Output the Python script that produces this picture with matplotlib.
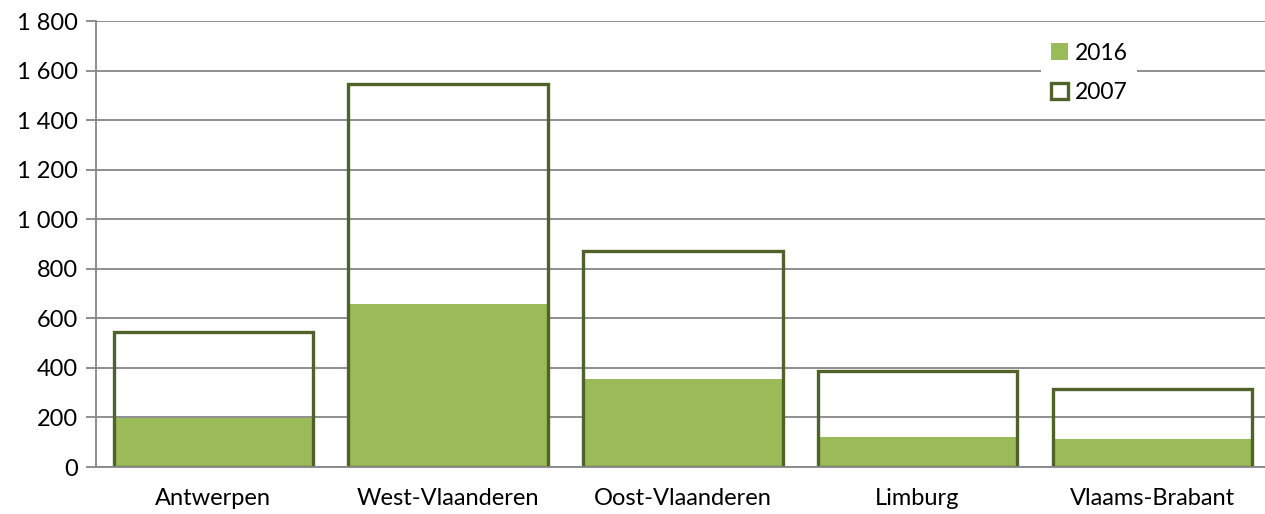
import matplotlib
matplotlib.use("Agg")
import matplotlib.pyplot as plt
from matplotlib.patches import Patch
from matplotlib.ticker import FuncFormatter

categories = ["Antwerpen", "West-Vlaanderen", "Oost-Vlaanderen", "Limburg", "Vlaams-Brabant"]
values_2016 = [198, 658, 355, 122, 113]
values_2007 = [545, 1546, 872, 389, 315]
yticks = [0, 200, 400, 600, 800, 1000, 1200, 1400, 1600, 1800]

plt.rcParams['font.family'] = ['Lato', 'DejaVu Sans']

fill_col = "#9BBB59"
edge_col = "#4F6228"
grid_col = "#868686"

fig = plt.figure(figsize=(12.65, 5.14), dpi=100)
ax = fig.add_axes([96 / 1265, 47 / 514, 1 - 96 / 1265, (467 - 21) / 514])

x = list(range(len(categories)))
w = 0.85
ax.bar(x, values_2016, width=w, color=fill_col, edgecolor="none", zorder=2)
ax.bar(x, values_2007, width=w, facecolor="none", edgecolor=edge_col, linewidth=2.4, zorder=3)

ax.set_ylim(0, 1800)
ax.set_xlim(-0.5, 4.48)
ax.set_yticks(yticks)
ax.yaxis.set_major_formatter(FuncFormatter(lambda v, p: f"{int(v):,}".replace(",", " ")))
ax.set_xticks(x)
ax.set_xticklabels(categories)

ax.yaxis.grid(True, color=grid_col, linewidth=1.3, zorder=0)
ax.set_axisbelow(True)
for s in ["top", "right"]:
    ax.spines[s].set_visible(False)
ax.spines["left"].set_color(grid_col)
ax.spines["left"].set_linewidth(1.3)
ax.spines["bottom"].set_color(grid_col)
ax.spines["bottom"].set_linewidth(1.3)
ax.spines["bottom"].set_zorder(4)
ax.tick_params(axis="y", length=7, width=1.3, color=grid_col, labelsize=17, pad=6)
ax.tick_params(axis="x", length=0, labelsize=17, pad=15)

handles = [Patch(facecolor=fill_col, edgecolor="none"),
           Patch(facecolor="white", edgecolor=edge_col, linewidth=2.4)]
leg = ax.legend(handles, ["2016", "2007"], loc="upper left",
                bbox_to_anchor=(1030 / 1265, 1 - 22 / 514), bbox_transform=fig.transFigure,
                frameon=True, fontsize=16.5, handlelength=0.75, handleheight=0.75,
                handletextpad=0.3, labelspacing=0.8, borderpad=0.4)
leg.get_frame().set_edgecolor("none")
leg.get_frame().set_facecolor("white")
leg.get_frame().set_alpha(1)

fig.savefig("out.png", dpi=100)
